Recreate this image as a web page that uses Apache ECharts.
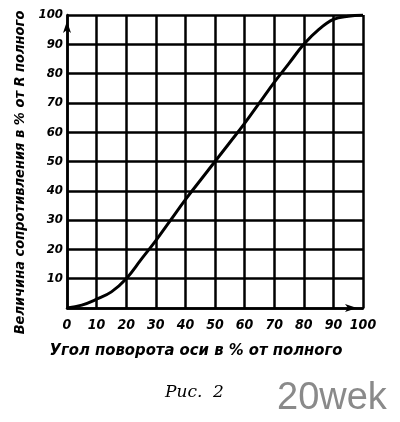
<!DOCTYPE html>
<html><head><meta charset="utf-8">
<script src="https://cdn.jsdelivr.net/npm/echarts@6/dist/echarts.min.js"></script>
<style>html,body{margin:0;padding:0;background:#fff}#c{width:400px;height:422px}</style>
</head><body><div id="c"></div>
<script>
var angle = [0,5,10,15,20,25,30,35,40,45,50,55,60,65,70,75,80,85,90,95,100];
var resistance = [0,1,3,5.5,10,16.5,23,30,37,43.5,50,56.5,63,70,77,83.5,90,95,98.5,99.6,100];
var xName = 'Угол поворота оси в % от полного';
var yName = 'Величина сопротивления в % от R полного';
var caption = 'Рис.  2';
var watermark = '20wek';

var lblFont = {color:'#000', fontFamily:'DejaVu Sans Condensed', fontStyle:'italic', fontWeight:'bold', fontSize:14};
var chart = echarts.init(document.getElementById('c'), null, {renderer:'canvas'});
chart.setOption({
  animation:false,
  backgroundColor:'#fff',
  grid:{left:67, right:37, top:15, bottom:114, containLabel:false},
  xAxis:{type:'value', min:0, max:100, interval:10,
    name:xName, nameLocation:'middle', nameGap:34,
    nameTextStyle:{color:'#000', fontFamily:'DejaVu Sans Condensed', fontStyle:'italic', fontWeight:'bold', fontSize:16.5, padding:[0,38,0,0]},
    axisLine:{show:true, lineStyle:{color:'#000', width:2.5}, symbol:['none','arrow'], symbolSize:[6,12], symbolOffset:[0,-6]},
    axisTick:{show:false},
    axisLabel:Object.assign({margin:10}, lblFont),
    splitLine:{show:true, lineStyle:{color:'#000', width:2.5}}
  },
  yAxis:{type:'value', min:0, max:100, interval:10,
    name:yName, nameLocation:'middle', nameGap:30, nameRotate:90,
    nameTextStyle:{color:'#000', fontFamily:'DejaVu Sans Condensed', fontStyle:'italic', fontWeight:'bold', fontSize:14.5, padding:[0,0,0,-22]},
    axisLine:{show:true, lineStyle:{color:'#000', width:2.5}, symbol:['none','arrow'], symbolSize:[6,12], symbolOffset:[0,-6]},
    axisTick:{show:false},
    axisLabel:Object.assign({margin:4, formatter:function(v){return v===0?'':v;}}, lblFont, {fontSize:13}),
    splitLine:{show:true, lineStyle:{color:'#000', width:2.5}}
  },
  series:[{type:'line', data:angle.map(function(a,i){return [a,resistance[i]];}),
    smooth:0.4, showSymbol:false, lineStyle:{color:'#000', width:3}, z:5}],
  graphic:[
    {type:'text', left:165, top:384, style:{text:caption, fill:'#000', font:'italic 17px "DejaVu Serif"'}},
    {type:'text', left:277, top:380, style:{text:watermark, fill:'#8a8a8a', font:'38px "Liberation Sans"'}}
  ]
});
</script></body></html>
